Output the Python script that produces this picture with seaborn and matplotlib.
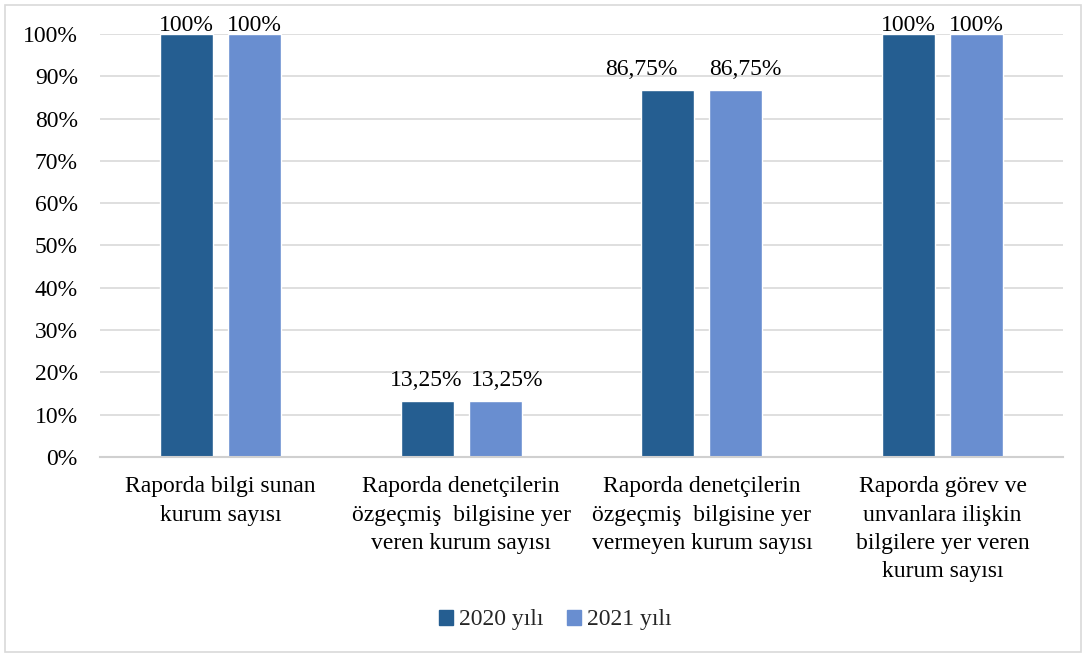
import matplotlib
matplotlib.use("Agg")
import matplotlib.pyplot as plt
from matplotlib.patches import Rectangle
from matplotlib.ticker import FuncFormatter, MultipleLocator
import seaborn as sns
import pandas as pd

categories = [
    "Raporda bilgi sunan\nkurum sayısı",
    "Raporda denetçilerin\nözgeçmiş  bilgisine yer\nveren kurum sayısı",
    "Raporda denetçilerin\nözgeçmiş  bilgisine yer\nvermeyen kurum sayısı",
    "Raporda görev ve\nunvanlara ilişkin\nbilgilere yer veren\nkurum sayısı",
]
years = ["2020 yılı", "2021 yılı"]
values_2020 = [100, 13.25, 86.75, 100]
values_2021 = [100, 13.25, 86.75, 100]
colors = ["#255E91", "#698ED0"]

df = pd.DataFrame({
    "kategori": categories * 2,
    "yil": [years[0]] * 4 + [years[1]] * 4,
    "oran": values_2020 + values_2021,
})

sns.set_theme(style="white")
plt.rcParams["font.family"] = ["Liberation Serif", "DejaVu Serif"]
FS = 17

fig = plt.figure(figsize=(10.86, 6.55), dpi=100)
ax = fig.add_axes([100 / 1086, 1 - 457 / 655, 963 / 1086, 423 / 655])

sns.barplot(data=df, x="kategori", y="oran", hue="yil", palette=colors,
            width=0.565, gap=0.22, ax=ax, legend=False, saturation=1)

ax.set_ylim(0, 100)
ax.set_xlim(-0.5, 3.5)
ax.yaxis.set_major_locator(MultipleLocator(10))
ax.yaxis.set_major_formatter(FuncFormatter(lambda v, p: f"{int(v)}%"))
ax.grid(axis="y", color="#D9D9D9", linewidth=1.2)
ax.set_axisbelow(True)
for side in ["top", "right", "left"]:
    ax.spines[side].set_visible(False)
ax.spines["bottom"].set_color("#D0D0D0")
ax.spines["bottom"].set_linewidth(1.5)
ax.set_xlabel("")
ax.set_ylabel("")
ax.tick_params(axis="y", labelsize=FS, length=0, pad=16, colors="black")
ax.tick_params(axis="x", labelsize=FS, length=0, pad=14, colors="black")
for lbl in ax.get_xticklabels():
    lbl.set_linespacing(1.45)


def fmt(v):
    s = f"{v:.2f}".rstrip("0").rstrip(".")
    return s.replace(".", ",") + "%"


# horizontal nudges (points) keep neighbouring labels of the shorter bars apart
nudge = {(0, 1): -1, (1, 1): 9, (0, 2): -19, (1, 2): 7}

# value labels sit above each bar; at the top of the axis they rest on the bar
for hi, container in enumerate(ax.containers):
    for ci, bar in enumerate(container):
        h = bar.get_height()
        dy = 2.5 if h >= 99.5 else 10.5
        dx = nudge.get((hi, ci), 0)
        ax.annotate(fmt(h), (bar.get_x() + bar.get_width() / 2, h),
                    xytext=(dx, dy), textcoords="offset points",
                    ha="center", va="baseline", fontsize=FS, color="black",
                    annotation_clip=False)

handles = [Rectangle((0, 0), 1, 1, color=c) for c in colors]
fig.legend(handles, years, loc="center", bbox_to_anchor=(555 / 1086, 1 - 620 / 655),
           ncol=2, frameon=False, fontsize=FS, handlelength=0.6, handleheight=0.6,
           handletextpad=0.25, columnspacing=1.0)

fig.patches.append(Rectangle((5 / 1086, 3 / 655), 1076 / 1086, 647 / 655,
                             transform=fig.transFigure, fill=False,
                             edgecolor="#D9D9D9", linewidth=1.2))

fig.savefig("out.png", dpi=100, facecolor="white")
